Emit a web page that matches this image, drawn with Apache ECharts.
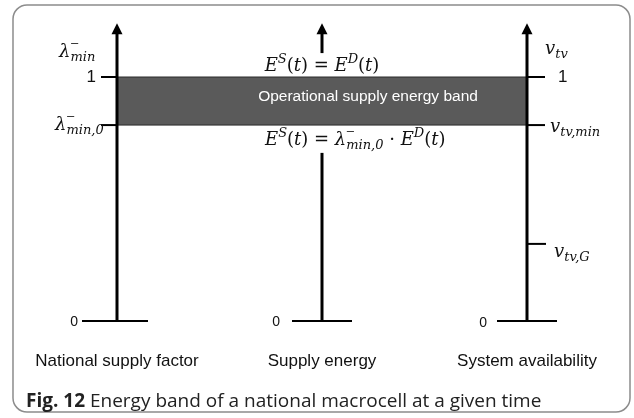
<!DOCTYPE html>
<html><head><meta charset="utf-8">
<script src="https://cdn.jsdelivr.net/npm/echarts@6/dist/echarts.min.js"></script>
<style>html,body{margin:0;padding:0;background:#fff}#c{width:634px;height:418px}</style>
</head><body><div id="c"></div>
<script>
// ---------------- data ----------------
const categories = ['National supply factor', 'Supply energy', 'System availability'];
const bandLevels = [0.803, 1];            // lambda-min,0 (= v_tv,min) and 1
const axisTop = 1.22;                     // arrow tip level
const middleAxisGap = [0.689, 1.098];     // hidden part of the supply-energy axis
const leftTickLevels = [1, 0.803, 0];
const middleTickLevels = [0];
const rightTickLevels = [1, 0.803, 0.316, 0];
const bandText = 'Operational supply energy band';
const captionBold = 'Fig. 12';
const captionText = ' Energy band of a national macrocell at a given time';

// ---------------- helpers ----------------
const SANS = '"Liberation Sans", Arial, sans-serif';
const SERIF = '"DejaVu Serif", "Liberation Serif", serif';
const mctx = document.createElement('canvas').getContext('2d');
function measure(style, size, t) {
  mctx.font = style + ' ' + size + 'px ' + SERIF;
  return mctx.measureText(t).width;
}
function mathGroup(pieces, x, y, align, size) {
  const small = Math.round(size * 0.7);
  const spec = {
    it: ['italic', size, 0], up: ['normal', size, 0],
    sup: ['italic', small, -size * 0.38], sub: ['italic', small, size * 0.32],
    supUp: ['normal', small, -size * 0.45], subUp: ['normal', small, size * 0.32]
  };
  let w = 0; const laid = [];
  pieces.forEach(p => {
    const s = spec[p[1]];
    const pw = measure(s[0], s[1], p[0]);
    laid.push({ t: p[0], st: s[0], sz: s[1], x: w, dy: s[2] });
    if (!p[2]) w += pw;
  });
  const x0 = align === 'center' ? x - w / 2 : (align === 'right' ? x - w : x);
  return {
    type: 'group',
    children: laid.map(l => ({
      type: 'text',
      style: {
        text: l.t, x: x0 + l.x, y: y + l.dy, align: 'left', verticalAlign: 'middle',
        fontFamily: SERIF, fontStyle: l.st, fontSize: l.sz, fill: '#111'
      }
    }))
  };
}

// math label pieces
const EQ1 = [['E','it'],['S','sup'],['(','up'],['t','it'],[')','up'],[' = ','up'],['E','it'],['D','sup'],['(','up'],['t','it'],[')','up']];
const EQ2 = [['E','it'],['S','sup'],['(','up'],['t','it'],[')','up'],[' = ','up'],['λ','it'],['‒','supUp',true],['min,0','sub'],[' · ','up'],['E','it'],['D','sup'],['(','up'],['t','it'],[')','up']];
const LMIN = [['λ','it'],['‒','supUp',true],['min','sub']];
const LMIN0 = [['λ','it'],['‒','supUp',true],['min,0','sub']];
const VTV = [['v','it'],['tv','sub']];
const VTVMIN = [['v','it'],['tv,min','sub']];
const VTVG = [['v','it'],['tv,G','sub']];

// label definitions: [category index, level, kind, content, dx, dy, align, size]
const labelDefs = [
  [0, 1, 'text', '1', -21, 0, 'right', 17],
  [0, 1, 'math', LMIN, -58, -25, 'left', 18],
  [0, bandLevels[0], 'math', LMIN0, -62, 0, 'left', 18],
  [0, 0, 'text', '0', -39, 1, 'right', 14],
  [1, 0, 'text', '0', -42, 1, 'right', 14],
  [2, 0, 'text', '0', -40, 2, 'right', 14],
  [2, 1, 'text', '1', 31, 0, 'left', 17],
  [2, 1, 'math', VTV, 18, -28, 'left', 18],
  [2, bandLevels[0], 'math', VTVMIN, 23, 2, 'left', 18],
  [2, rightTickLevels[2], 'math', VTVG, 27, 8, 'left', 18],
  [1, 1, 'math', EQ1, 0, -11, 'center', 18],
  [1, bandLevels[0], 'math', EQ2, -57, 15, 'left', 18],
  [1, (bandLevels[0] + bandLevels[1]) / 2, 'text', bandText, 46, -4, 'center', 15.5, '#fff']
];

// axis segments: [category, from, to, arrow]
const axisSegments = [
  [0, 0, axisTop, 1],
  [1, 0, middleAxisGap[0], 0],
  [1, middleAxisGap[1], axisTop, 1],
  [2, 0, axisTop, 1]
];
// ticks: [category, level, leftLength, rightLength]
const tickData = [];
leftTickLevels.forEach(v => tickData.push([0, v, v === 0 ? 35 : 16, v === 0 ? 31 : 0]));
middleTickLevels.forEach(v => tickData.push([1, v, 30, 30]));
rightTickLevels.forEach(v => tickData.push([2, v, v === 0 ? 30 : 0, v === 0 ? 30 : (v === rightTickLevels[2] ? 19 : 18)]));

const chart = echarts.init(document.getElementById('c'));
chart.setOption({
  animation: false,
  grid: { left: 117, right: 107, top: 16, bottom: 97 },
  xAxis: {
    type: 'category', data: categories, boundaryGap: false,
    axisLine: { show: false }, axisTick: { show: false }, splitLine: { show: false },
    axisLabel: { margin: 40, verticalAlign: 'middle', fontFamily: SANS, fontSize: 17, color: '#111', interval: 0 }
  },
  yAxis: { type: 'value', min: 0, max: 1.25, show: false },
  graphic: [
    { type: 'rect', shape: { x: 13, y: 5, width: 617, height: 407, r: 14 },
      style: { fill: 'none', stroke: '#8c8c8c', lineWidth: 1.5 }, z: 10 },
    { type: 'text', left: 26, top: 392,
      style: { text: '{b|' + captionBold + '}' + captionText, fontFamily: '"Open Sans", sans-serif', fontSize: 19, fill: '#222',
        rich: { b: { fontWeight: 'bold', fontFamily: '"Open Sans", sans-serif', fontSize: 19, fill: '#222' } } }, z: 10 }
  ],
  series: [
    { type: 'custom', z: 1, data: [[0, bandLevels[0], 2, bandLevels[1]]],
      renderItem: (p, api) => {
        const a = api.coord([api.value(0), api.value(3)]);
        const b = api.coord([api.value(2), api.value(1)]);
        return { type: 'rect', shape: { x: a[0], y: a[1], width: b[0] - a[0], height: b[1] - a[1] },
          style: { fill: '#5a5a5a', stroke: '#2a2a2a', lineWidth: 1 } };
      } },
    { type: 'custom', z: 3, data: axisSegments,
      renderItem: (p, api) => {
        const a = api.coord([api.value(0), api.value(1)]);
        const b = api.coord([api.value(0), api.value(2)]);
        const arrow = api.value(3);
        const children = [{ type: 'line', shape: { x1: a[0], y1: a[1], x2: b[0], y2: arrow ? b[1] + 8 : b[1] },
          style: { stroke: '#000', lineWidth: 3 } }];
        if (arrow) children.push({ type: 'polygon', shape: { points: [[b[0], b[1]], [b[0] - 5.5, b[1] + 11], [b[0] + 5.5, b[1] + 11]] },
          style: { fill: '#000' } });
        return { type: 'group', children };
      } },
    { type: 'custom', z: 2, data: tickData,
      renderItem: (p, api) => {
        const c = api.coord([api.value(0), api.value(1)]);
        return { type: 'line', shape: { x1: c[0] - api.value(2), y1: c[1], x2: c[0] + api.value(3), y2: c[1] },
          style: { stroke: '#000', lineWidth: 2 } };
      } },
    { type: 'custom', z: 4, data: labelDefs.map((d, i) => [d[0], d[1], i]),
      renderItem: (p, api) => {
        const d = labelDefs[api.value(2)];
        const c = api.coord([api.value(0), api.value(1)]);
        const x = c[0] + d[4], y = c[1] + d[5];
        if (d[2] === 'math') return mathGroup(d[3], x, y, d[6], d[7]);
        return { type: 'text', style: { text: d[3], x, y, align: d[6], verticalAlign: 'middle',
          fontFamily: SANS, fontSize: d[7], fill: d[8] || '#111' } };
      } }
  ]
});
</script></body></html>
